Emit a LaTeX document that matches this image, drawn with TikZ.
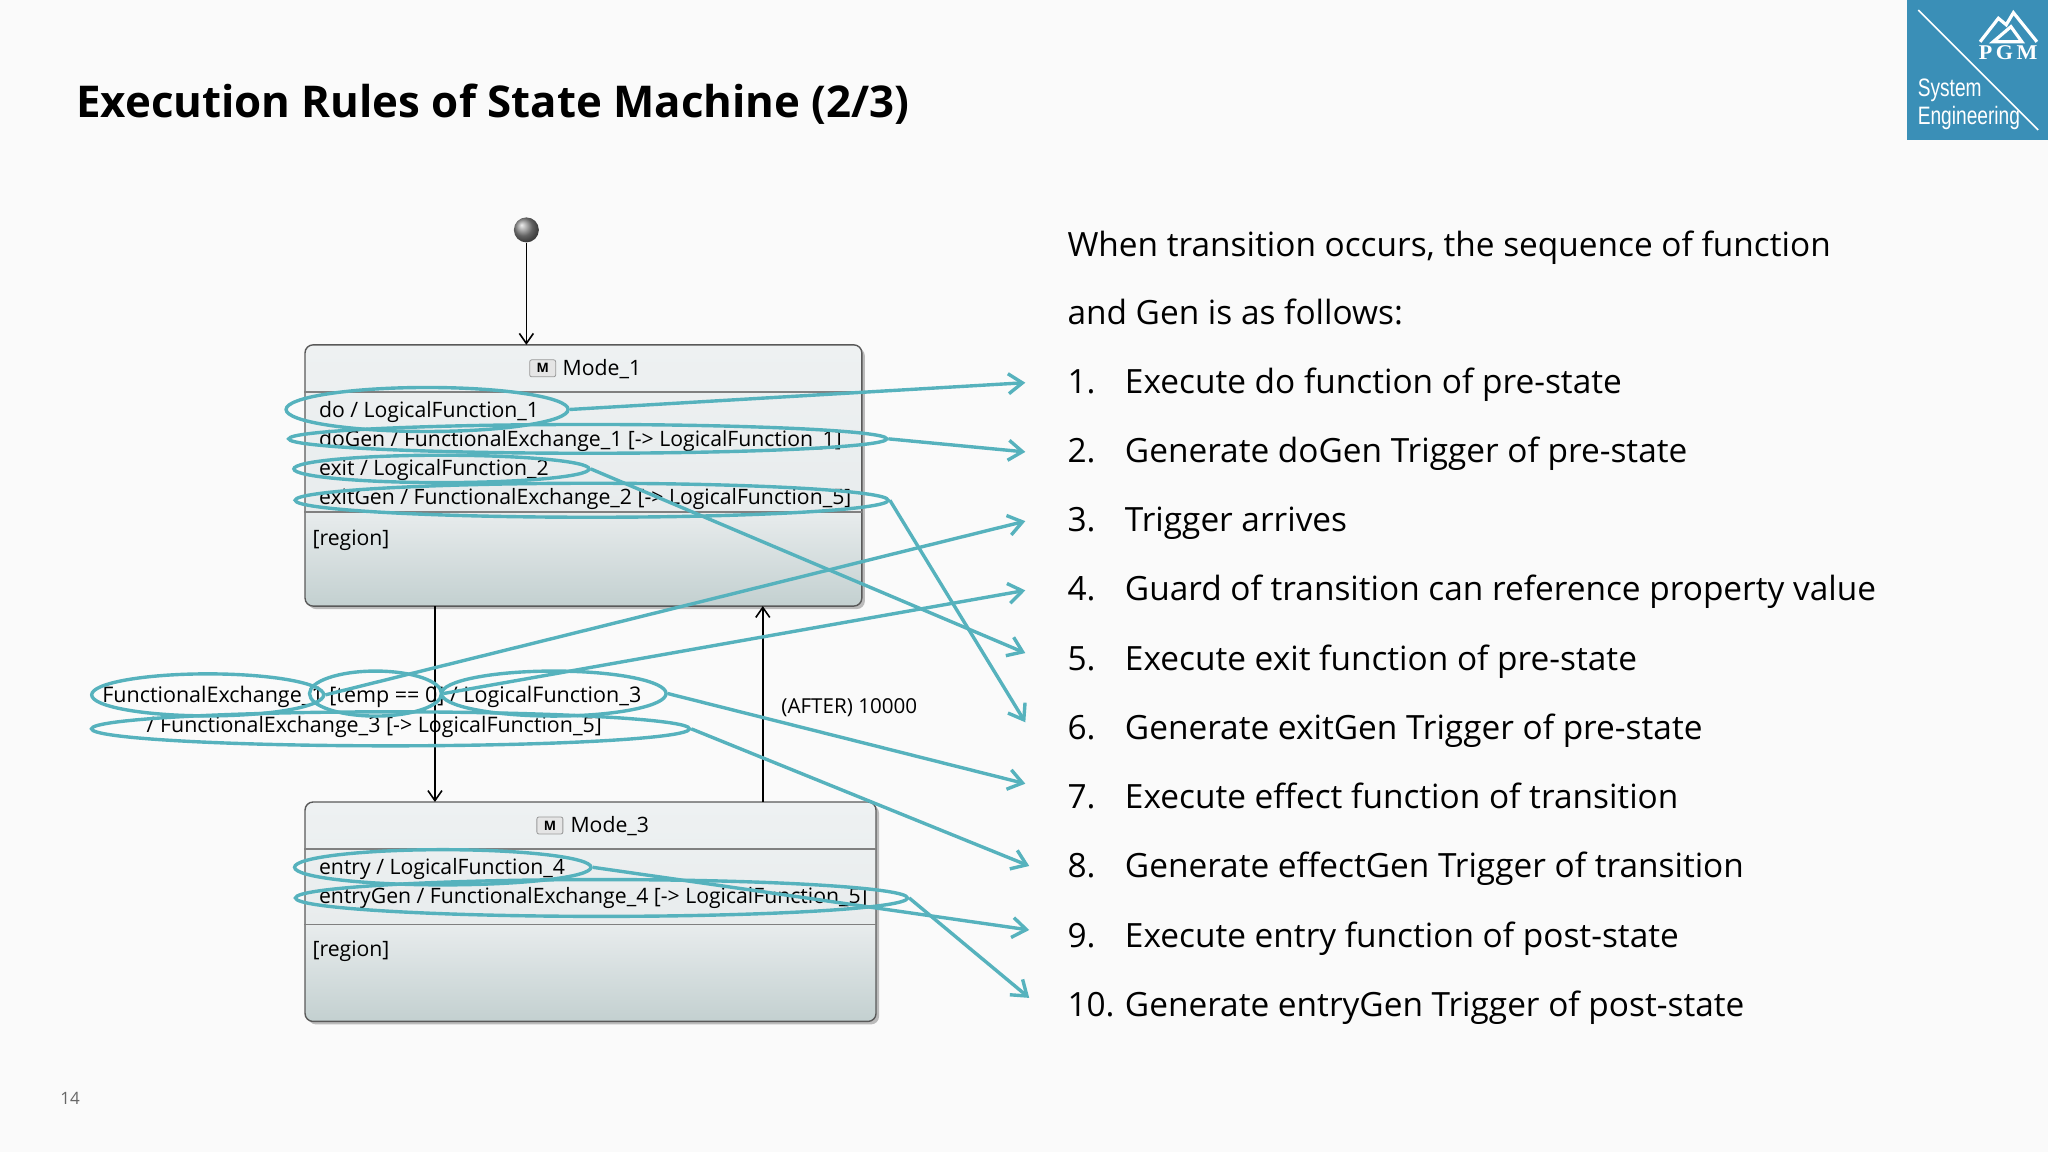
\documentclass[tikz,border=0pt]{standalone}
\usepackage{fontspec}
\setmainfont{Open Sans}
\newfontfamily\logofont[FakeStretch=0.76]{Liberation Sans}
\newfontfamily\pgmfont[FakeStretch=1.05]{Liberation Serif}
\usetikzlibrary{arrows.meta,shapes.geometric,shadows}
\definecolor{pagebg}{HTML}{FAFAFA}
\definecolor{ringc}{HTML}{56B2BD}
\definecolor{logoc}{HTML}{3A8FB7}
\definecolor{boxtop}{HTML}{EEF1F2}
\definecolor{boxmid}{HTML}{E8ECED}
\definecolor{boxbot}{HTML}{C3D0D0}
\pgfdeclareverticalshading{modeone}{100bp}{color(0bp)=(boxbot);color(25bp)=(boxbot);color(43bp)=(boxmid);color(75bp)=(boxtop);color(100bp)=(boxtop)}
\pgfdeclareverticalshading{modethree}{100bp}{color(0bp)=(boxbot);color(25bp)=(boxbot);color(47bp)=(boxmid);color(75bp)=(boxtop);color(100bp)=(boxtop)}
\begin{document}
\begin{tikzpicture}[x=0.65306pt,y=-0.65306pt,
  mode/.style={rectangle,draw=black!65,line width=.7pt,rounded corners=4pt,anchor=north west,inner sep=0pt,drop shadow={shadow xshift=1.5pt,shadow yshift=-1.5pt,opacity=.25,fill=black}},
  sep/.style={draw=black!50,line width=.7pt},
  st/.style={anchor=west,inner sep=0pt,font=\fontsize{10.6}{12}\selectfont,text height=.98em,text depth=.25em},
  li/.style={anchor=west,inner sep=0pt,font=\fontsize{16.7}{20}\selectfont,text height=1.31em,text depth=.25em},
  ring/.style={ellipse,draw=ringc,line width=1.7pt,inner sep=0pt},
  ln/.style={draw=ringc,line width=1.7pt,-{Straight Barb[length=7pt,width=10pt,line width=1.7pt]}},
  tr/.style={draw=black,line width=.8pt,-{Straight Barb[length=5pt,width=7pt]}},
  icn/.style={rectangle,draw=black!40,fill=white!90!black,rounded corners=1pt,minimum width=13pt,minimum height=8.5pt,inner sep=0pt,font=\bfseries\fontsize{6.5}{6.5}\selectfont}]
  \fill[pagebg] (0,0) rectangle (1568,882);
  \useasboundingbox (0,0) rectangle (1568,882);

  % logo
  \fill[logoc] (1460,0) rectangle (1568,107.5);
  \draw[white,line width=.8pt] (1468.6,7.7) -- (1560.5,99.5);
  \draw[white,line width=1.6pt] (1516,32) -- (1530,14) -- (1536,19) -- (1541.5,9.7) -- (1559.5,32);
  \draw[white,line width=1.6pt] (1526,32) -- (1539.6,20.4) -- (1548,32) -- cycle;
  \node[text=white,inner sep=0pt,font=\pgmfont\bfseries\fontsize{10.5}{10}\selectfont] (pgm) at (1537.5,40) {P\,G\,M};
  \node[anchor=west,text=white,inner sep=0pt,font=\logofont\fontsize{12.6}{14}\selectfont] (sys) at (1468,69) {System};
  \node[anchor=west,text=white,inner sep=0pt,font=\logofont\fontsize{12.6}{14}\selectfont] (eng) at (1468,90.5) {Engineering};

  \node[anchor=west,inner sep=0pt,font=\bfseries\fontsize{21.9}{26}\selectfont] (title) at (58,80) {Execution Rules of State Machine (2/3)};
  \node[anchor=west,inner sep=0pt,text=black!60,font=\fontsize{8.5}{10}\selectfont] (page) at (46,841) {14};

  % states
  \node[mode,shading=modeone,minimum width=278.4pt,minimum height=130.6pt] (m1) at (233,263.5) {};
  \node[mode,shading=modethree,minimum width=285.5pt,minimum height=109.7pt] (m3) at (233,613.5) {};
  \draw[sep] (233,300) -- (660,300);
  \draw[sep] (233,392) -- (660,392);
  \draw[sep] (233,650) -- (671,650);
  \draw[sep] (233,708) -- (671,708);
  \node[circle,ball color=black!45,minimum size=12.5pt,inner sep=0pt] (init) at (403,176) {};

  \node[icn] (ic1) at (415.5,282) {M};
  \node[st,right=1pt] (t1) at (429,282) {Mode\_1};
  \node[icn] (ic3) at (421,632) {M};
  \node[st,right=1pt] (t3) at (435,632) {Mode\_3};

  \node[st] (do) at (244,314) {do / LogicalFunction\_1};
  \node[st] (dogen) at (244,336) {doGen / FunctionalExchange\_1 [-> LogicalFunction\_1]};
  \node[st] (ex) at (244,358.5) {exit / LogicalFunction\_2};
  \node[st] (exgen) at (244,381) {exitGen / FunctionalExchange\_2 [-> LogicalFunction\_5]};
  \node[st] (rg1) at (239,412) {[region]};
  \node[st] (en) at (244,664) {entry / LogicalFunction\_4};
  \node[st] (engen) at (244,686) {entryGen / FunctionalExchange\_4 [-> LogicalFunction\_5]};
  \node[st] (rg3) at (239,727) {[region]};

  \node[st,font=\fontsize{10.75}{12}\selectfont] (trig) at (78,532) {FunctionalExchange\_1 [temp == 0] / LogicalFunction\_3};
  \node[st,font=\fontsize{10.7}{12}\selectfont] (eff) at (112,555) {/ FunctionalExchange\_3 [-> LogicalFunction\_5]};
  \node[st,font=\fontsize{10.3}{12}\selectfont] (aft) at (598,541) {(AFTER) 10000};

  \coordinate (a1) at (333,464);
  \coordinate (a3) at (333,614);
  \coordinate (b1) at (584,464);
  \coordinate (b3) at (584,614);
  \draw[tr] (init) -- (403,264);
  \draw[tr] (a1) -- (a3);
  \draw[tr] (b3) -- (b1);

  % list
  \node[li] (h1) at (817,188) {When transition occurs, the sequence of function};
  \node[li] (h2) at (817,240) {and Gen is as follows:};
  \node[li] (n1) at (817,293) {1.};
  \node[li] (i1) at (861,293) {Execute do function of pre-state};
  \node[li] (n2) at (817,346) {2.};
  \node[li] (i2) at (861,346) {Generate doGen Trigger of pre-state};
  \node[li] (n3) at (817,399) {3.};
  \node[li] (i3) at (861,399) {Trigger arrives};
  \node[li] (n4) at (817,452) {4.};
  \node[li] (i4) at (861,452) {Guard of transition can reference property value};
  \node[li] (n5) at (817,505) {5.};
  \node[li] (i5) at (861,505) {Execute exit function of pre-state};
  \node[li] (n6) at (817,558) {6.};
  \node[li] (i6) at (861,558) {Generate exitGen Trigger of pre-state};
  \node[li] (n7) at (817,611) {7.};
  \node[li] (i7) at (861,611) {Execute effect function of transition};
  \node[li] (n8) at (817,664) {8.};
  \node[li] (i8) at (861,664) {Generate effectGen Trigger of transition};
  \node[li] (n9) at (817,717) {9.};
  \node[li] (i9) at (861,717) {Execute entry function of post-state};
  \node[li] (n10) at (817,770) {10.};
  \node[li] (i10) at (861,770) {Generate entryGen Trigger of post-state};

  % rings
  \node[ring,minimum width=141pt,minimum height=22pt] (r1) at (327,313.5) {};
  \node[ring,minimum width=299pt,minimum height=14.4pt] (r2) at (450,336) {};
  \node[ring,minimum width=147.6pt,minimum height=13.7pt] (r5) at (338,359) {};
  \node[ring,minimum width=296.5pt,minimum height=17pt] (r6) at (453,383) {};
  \node[ring,minimum width=116pt,minimum height=21pt] (r3a) at (159,532) {};
  \node[ring,minimum width=66pt,minimum height=22.5pt] (r4) at (287.5,531) {};
  \node[ring,minimum width=112.3pt,minimum height=22.5pt] (r7) at (424,531) {};
  \node[ring,minimum width=299pt,minimum height=17pt] (r8) at (299,558) {};
  \node[ring,minimum width=148.2pt,minimum height=17.6pt] (r9) at (339,664) {};
  \node[ring,minimum width=306pt,minimum height=18.4pt] (r10) at (460.5,687.5) {};

  \coordinate (e1) at (785,293);
  \coordinate (e2) at (785,346);
  \coordinate (e3) at (785,399);
  \coordinate (e4) at (785,452);
  \coordinate (e5) at (785,500);
  \coordinate (e6) at (785,553);
  \coordinate (e7) at (785,600);
  \coordinate (e8) at (788,663);
  \coordinate (e9) at (788,712);
  \coordinate (e10) at (788,764);

  \draw[ln] (r1.east) -- (e1);
  \draw[ln] (r2.east) -- (e2);
  \draw[ln] (r3a.east) -- (e3);
  \draw[ln] (r4.east) -- (e4);
  \draw[ln] (r5.east) -- (e5);
  \draw[ln] (r6.east) -- (e6);
  \draw[ln] (r7.east) -- (e7);
  \draw[ln] (r8.east) -- (e8);
  \draw[ln] (r9.east) -- (e9);
  \draw[ln] (r10.east) -- (e10);
\end{tikzpicture}
\end{document}
